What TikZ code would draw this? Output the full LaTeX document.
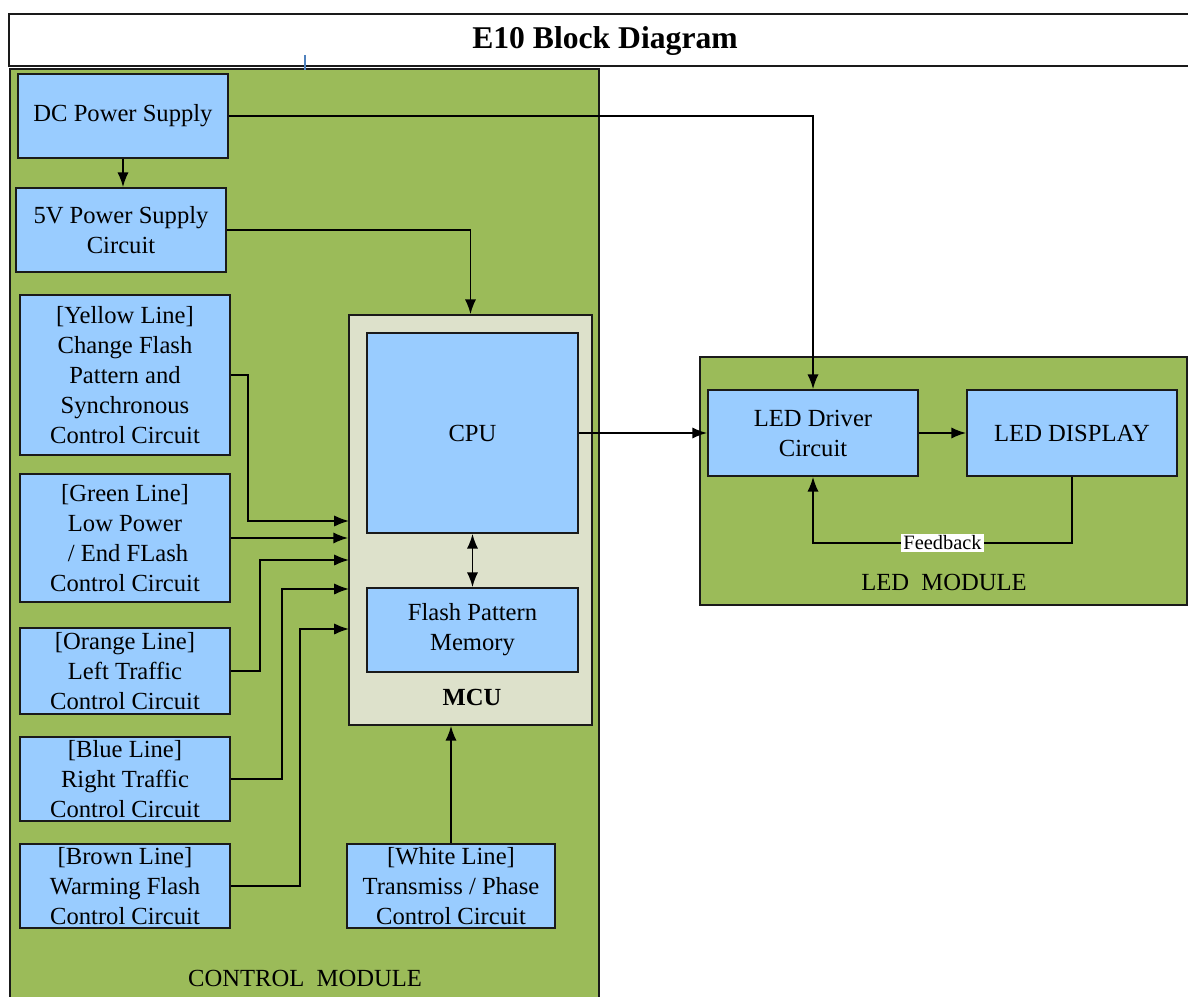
\documentclass[tikz,border=0pt]{standalone}
\usepackage{fontspec}
\setmainfont{Liberation Serif}
\usetikzlibrary{arrows.meta}
\definecolor{modgreen}{HTML}{9BBB59}
\definecolor{boxblue}{HTML}{99CCFF}
\definecolor{mcufill}{HTML}{DDE1CB}
\definecolor{edge}{HTML}{1A1A1A}
\definecolor{tickblue}{HTML}{4F81BD}
\begin{document}
\begin{tikzpicture}[x=0.025cm,y=-0.025cm,
  wh/.style 2 args={minimum width=#1*0.025cm, minimum height=#2*0.025cm},
  box/.style={draw=edge, line width=1.2pt, fill=boxblue, inner sep=0pt, align=center,
              font=\fontsize{17.5}{21.3}\selectfont},
  mcubox/.style={draw=edge, line width=1.2pt, fill=mcufill, inner sep=0pt},
  module/.style={draw=edge, line width=1.2pt, fill=modgreen},
  conn/.style={draw=black, line width=1.3pt},
  arr/.style={conn, -{Latex[length=10.5pt,width=8pt]}},
  dbl/.style={conn, {Latex[length=10.5pt,width=8pt]}-{Latex[length=10.5pt,width=8pt]}},
  lbl/.style={inner sep=0pt, font=\fontsize{17.5}{21.3}\selectfont},
  fb/.style={fill=white, inner sep=1.5pt, font=\fontsize{14.5}{16}\selectfont},
  title/.style={inner sep=0pt, font=\fontsize{22.5}{26}\selectfont\bfseries}
]
\useasboundingbox (0,0) rectangle (1188,997);
\fill[white] (0,0) rectangle (1188,997);
\clip (0,0) rectangle (1188,997);

% title bar
\draw[draw=edge, line width=1.2pt, fill=white] (9,14) rectangle (1210,66);
\node[title] (ttl) at (605,41) {E10 Block Diagram};

% modules
\draw[module] (10,69) rectangle (599,1010);
\draw[module] (700,357) rectangle (1187,605);
\draw[tickblue, line width=0.8pt] (305,55) -- (305,70);

\node[lbl] (cmod) at (305,978) {CONTROL\ \ MODULE};
\node[lbl] (lmod) at (944,582) {LED\ \ MODULE};

% MCU
\node[mcubox, wh={243}{410}] (mcu) at (470.5,520) {};
\node[box, wh={211}{200}] (cpu) at (472.5,433) {CPU};
\node[box, wh={211}{84}] (fpm) at (472.5,630) {Flash Pattern\\Memory};
\node[lbl, font=\fontsize{17.5}{21.3}\selectfont\bfseries] (mcul) at (472,697) {MCU};

% left column
\node[box, wh={210}{84}] (dc) at (123,116) {DC Power Supply};
\node[box, wh={210}{84}] (p5) at (121,230) {5V Power Supply\\Circuit};
\node[box, wh={210}{160}] (yel) at (125,375) {[Yellow Line]\\Change Flash\\Pattern and\\Synchronous\\Control Circuit};
\node[box, wh={210}{128}] (grn) at (125,538) {[Green Line]\\Low Power\\\ / End FLash\\Control Circuit};
\node[box, wh={210}{86}] (org) at (125,671) {[Orange Line]\\Left Traffic\\Control Circuit};
\node[box, wh={210}{84}] (blu) at (125,779) {[Blue Line]\\Right Traffic\\Control Circuit};
\node[box, wh={210}{84}] (brn) at (125,886) {[Brown Line]\\Warming Flash\\Control Circuit};
\node[box, wh={208}{84}] (wht) at (451,886) {[White Line]\\Transmiss / Phase\\Control Circuit};

% LED module
\node[box, wh={210}{86}] (drv) at (813,433) {LED Driver\\Circuit};
\node[box, wh={210}{86}] (disp) at (1072,433) {LED DISPLAY};

% MCU input points
\coordinate (in1) at (349,521);
\coordinate (in3) at (349,560);
\coordinate (in4) at (349,589);
\coordinate (in5) at (349,629);

% connectors
\draw[arr] (dc.south) -- (p5.north -| dc.south);
\draw[arr] (dc.east) -| (drv.north);
\draw[arr] (p5.east) -| (mcu.north);
\draw[arr] (yel.east) -- (248,375) -- (248,521) -- (in1);
\draw[arr] (grn.east) -- (grn.east -| mcu.west);
\draw[arr] (org.east) -- (260,671) -- (260,560) -- (in3);
\draw[arr] (blu.east) -- (282,779) -- (282,589) -- (in4);
\draw[arr] (brn.east) -- (300,886) -- (300,629) -- (in5);
\draw[arr] (wht.north) -- (wht.north |- mcu.south);
\draw[dbl] (cpu.south) -- (fpm.north);
\draw[arr] (cpu.east) -- (drv.west);
\draw[arr] (drv.east) -- (disp.west);
\draw[arr] (disp.south) -- (1072,543) -- node[fb] (fbl) {Feedback} (813,543) -- (drv.south);
\end{tikzpicture}
\end{document}
